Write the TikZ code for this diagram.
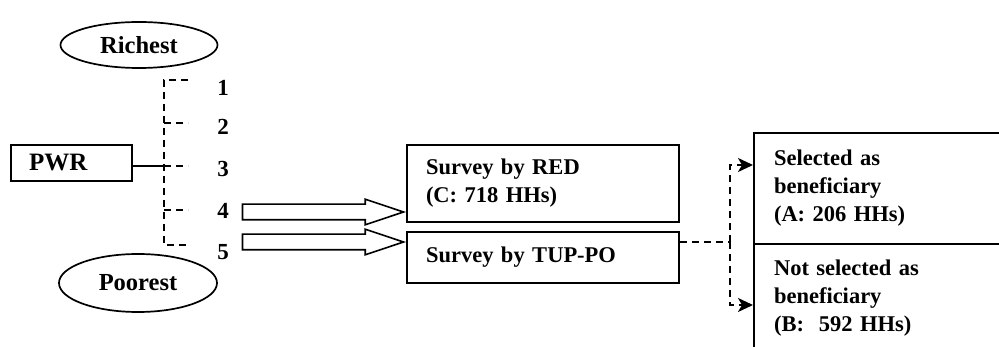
\documentclass[tikz,border=0pt]{standalone}
\usepackage{fontspec}
\setmainfont{Liberation Serif}
\usetikzlibrary{shapes.geometric,shapes.arrows,arrows.meta,calc,positioning}
\tikzset{
  lbl/.style={font=\bfseries\fontsize{22.5}{28}\selectfont},
  oval/.style={ellipse,draw,line width=1.7pt,inner sep=0pt,font=\bfseries\fontsize{24.5}{28}\selectfont},
  box/.style={draw,line width=2pt,anchor=north west,align=left,inner xsep=19pt,inner ysep=0pt,lbl},
  hollow/.style={single arrow,draw,line width=1.6pt,inner xsep=0pt,inner ysep=7pt,
    single arrow head extend=5pt,single arrow tip angle=37,minimum height=161pt},
  dashes/.style={line width=1.7pt,dash pattern=on 7pt off 5pt},
  tip/.style={-{Stealth[length=15pt,width=14pt,inset=4pt]}}
}
\begin{document}
\begin{tikzpicture}[x=1pt,y=-1pt]
  \useasboundingbox (0,0) rectangle (999,347);
  \clip (0,0) rectangle (999,347);
  % wealth ranking
  \node[oval,minimum width=157pt,minimum height=46pt] (rich) at (139,45) {Richest};
  \node[oval,minimum width=158pt,minimum height=58pt] (poor) at (138,283) {Poorest};
  \node[box,font=\bfseries\fontsize{25}{28}\selectfont,inner xsep=18pt,text width=85pt,minimum height=36pt] (pwr) at (10,144) {PWR};
  \foreach \n/\ty/\ly in {1/80/88,2/123/127,3/166/169,4/210/211,5/245/252} {
    \coordinate (t\n) at (164,\ty);
    \coordinate (e\n) at (188,\ty);
    \node[font=\bfseries\fontsize{23}{26}\selectfont] (num\n) at (223,\ly) {\n};
  }
  \draw[dashes] (e1) -- (t1) -- (t5) -- (e5);
  \foreach \n in {2,3,4} \draw[dashes] (t\n) -- (e\n);
  \draw[line width=1.4pt] (pwr.east |- t3) -- (t3);
  % surveys
  \node[box,text width=234pt,minimum height=77pt] (red) at (406,144) {Survey by RED\\(C: 718 HHs)};
  \node[box,text width=234pt,minimum height=51pt] (tup) at (406,231) {Survey by TUP-PO};
  \node[hollow,anchor=tip] (arr4) at ($(red.south west)+(0,-11)$) {};
  \node[hollow,anchor=tip] (arr5) at ($(tup.north west)+(0,11)$) {};
  % selection
  \node[box,inner xsep=20pt,text width=300pt,minimum height=111pt] (sel) at (753,132) {Selected as\\beneficiary\\(A: 206 HHs)};
  \node[box,inner xsep=20pt,text width=300pt,minimum height=108pt] (notsel) at (753,243) {Not selected as\\beneficiary\\(B:~ 592 HHs)};
  \coordinate (split) at (730,242);
  \draw[dashes] ($(tup.north east)+(0,11)$) -- (split);
  \draw[dashes,tip] (split) |- ($(sel.north west)+(0,33)$);
  \draw[dashes,tip] (split) |- ($(notsel.north west)+(0,62)$);
\end{tikzpicture}
\end{document}
